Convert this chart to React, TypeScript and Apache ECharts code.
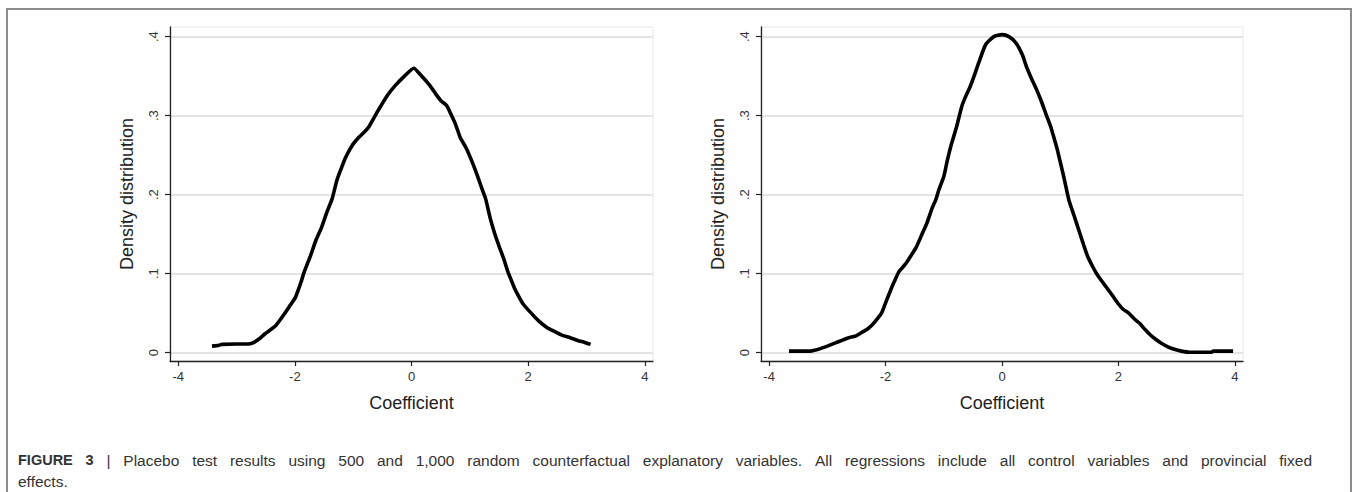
import React, { useEffect, useRef } from "react";
import * as echarts from "echarts";

const xTicks = [-4, -2, 0, 2, 4];
const yTicks = [0, 0.1, 0.2, 0.3, 0.4];
const yTickLabels = ["0", ".1", ".2", ".3", ".4"];

const xTitle = "Coefficient";
const yTitle = "Density distribution";

// Left panel: 500 random counterfactual draws
const reps500X = [-3.42, -3.3, -3.25, -3.0, -2.8, -2.73, -2.62, -2.51, -2.4, -2.32, -2.18, -2.08, -1.99, -1.9, -1.84, -1.73, -1.64, -1.54, -1.45, -1.36, -1.28, -1.2, -1.13, -1.02, -0.91, -0.8, -0.73, -0.576, -0.42, -0.28, -0.12, 0.04, 0.15, 0.316, 0.42, 0.503, 0.6, 0.65, 0.75, 0.837, 0.93, 1.02, 1.12, 1.21, 1.27, 1.35, 1.43, 1.51, 1.58, 1.655, 1.72, 1.77, 1.84, 1.91, 2.04, 2.17, 2.32, 2.45, 2.585, 2.72, 2.85, 2.97, 3.07];
const reps500Y = [0.0083, 0.0095, 0.0105, 0.011, 0.011, 0.012, 0.017, 0.024, 0.03, 0.035, 0.049, 0.06, 0.07, 0.088, 0.102, 0.123, 0.142, 0.159, 0.178, 0.195, 0.218, 0.234, 0.247, 0.262, 0.272, 0.28, 0.286, 0.306, 0.325, 0.338, 0.35, 0.36, 0.352, 0.338, 0.327, 0.319, 0.313, 0.306, 0.29, 0.272, 0.26, 0.245, 0.226, 0.207, 0.195, 0.17, 0.15, 0.133, 0.119, 0.102, 0.09, 0.081, 0.071, 0.062, 0.051, 0.041, 0.032, 0.027, 0.022, 0.019, 0.0155, 0.013, 0.0105];

// Right panel: 1,000 random counterfactual draws
const reps1000X = [-3.66, -3.45, -3.3, -3.2, -3.11, -2.98, -2.85, -2.74, -2.63, -2.52, -2.41, -2.31, -2.22, -2.14, -2.07, -2.0, -1.92, -1.85, -1.77, -1.66, -1.57, -1.47, -1.38, -1.29, -1.2, -1.14, -1.09, -1.0, -0.94, -0.88, -0.78, -0.69, -0.62, -0.557, -0.47, -0.39, -0.28, -0.14, 0.0, 0.12, 0.24, 0.35, 0.42, 0.5, 0.6, 0.687, 0.76, 0.837, 0.9, 0.95, 1.06, 1.15, 1.24, 1.32, 1.4, 1.47, 1.55, 1.62, 1.71, 1.806, 1.9, 1.99, 2.08, 2.177, 2.27, 2.364, 2.45, 2.55, 2.64, 2.737, 2.85, 2.96, 3.08, 3.22, 3.4, 3.59, 3.63, 3.75, 3.97];
const reps1000Y = [0.002, 0.002, 0.002, 0.0035, 0.0055, 0.009, 0.0127, 0.016, 0.019, 0.021, 0.0256, 0.03, 0.036, 0.043, 0.05, 0.063, 0.078, 0.09, 0.1026, 0.112, 0.122, 0.134, 0.149, 0.164, 0.183, 0.193, 0.205, 0.223, 0.243, 0.261, 0.286, 0.312, 0.325, 0.335, 0.352, 0.369, 0.39, 0.4, 0.4025, 0.4, 0.392, 0.377, 0.362, 0.348, 0.332, 0.316, 0.301, 0.286, 0.27, 0.257, 0.223, 0.193, 0.173, 0.155, 0.137, 0.122, 0.11, 0.1006, 0.091, 0.0816, 0.072, 0.0626, 0.055, 0.05, 0.043, 0.0372, 0.03, 0.0224, 0.017, 0.0119, 0.0075, 0.0043, 0.002, 0.0005, 0.0005, 0.0005, 0.002, 0.002, 0.002];

const captionBold = "FIGURE 3";
const captionLine1 = "| Placebo test results using 500 and 1,000 random counterfactual explanatory variables. All regressions include all control variables and provincial fixed";
const captionLine2 = "effects.";

const FONT = "'Liberation Sans', Arial, Helvetica, sans-serif";
const CAP_BOLD_SIZE = 14.5;
const CAP_SIZE = 15.5;
const CAP_LEFT = 18;
const CAP_RIGHT = 1312;

function zip(xs: number[], ys: number[]) {
  return xs.map((x, i) => [x, ys[i]]);
}

function yLabel(v: number) {
  let best = 0;
  yTicks.forEach((t, i) => {
    if (Math.abs(t - v) < Math.abs(yTicks[best] - v)) best = i;
  });
  return yTickLabels[best];
}

function makeX(gridIndex: number) {
  return {
    type: "value",
    gridIndex,
    min: -4.14,
    max: 4.14,
    axisLine: { show: true, onZero: false, lineStyle: { color: "#222", width: 1.3 } },
    axisTick: { show: true, length: 5, customValues: xTicks, lineStyle: { color: "#222", width: 1.2 } },
    axisLabel: { customValues: xTicks, fontSize: 13, color: "#333", margin: 9, fontFamily: FONT },
    splitLine: { show: false },
    name: xTitle,
    nameLocation: "middle",
    nameGap: 33,
    nameTextStyle: { fontSize: 18, color: "#222", fontFamily: FONT },
  };
}

function makeY(gridIndex: number) {
  return {
    type: "value",
    gridIndex,
    min: -0.0105,
    max: 0.4122,
    axisLine: { show: true, onZero: false, lineStyle: { color: "#222", width: 1.3 } },
    axisTick: { show: true, length: 5, customValues: yTicks, lineStyle: { color: "#222", width: 1.2 } },
    axisLabel: {
      customValues: yTicks,
      rotate: 90,
      fontSize: 13,
      color: "#333",
      margin: 10,
      fontFamily: FONT,
      formatter: (v: number) => yLabel(v),
    },
    splitLine: { show: true, lineStyle: { color: "#e4e4e4", width: 2 } },
    name: yTitle,
    nameLocation: "middle",
    nameGap: 34,
    nameTextStyle: { fontSize: 18, color: "#222", fontFamily: FONT },
  };
}

// First caption line, justified to the full text width like the journal layout
function justifiedCaption(y: number) {
  const tokens: { t: string; bold: boolean }[] = [];
  captionBold.split(" ").forEach((t) => tokens.push({ t, bold: true }));
  captionLine1.split(" ").forEach((t) => tokens.push({ t, bold: false }));
  const canvas = document.createElement("canvas");
  const ctx = canvas.getContext("2d")!;
  const widths = tokens.map((tk) => {
    ctx.font = (tk.bold ? "bold " + CAP_BOLD_SIZE : CAP_SIZE) + "px 'Liberation Sans', Arial, sans-serif";
    return ctx.measureText(tk.t).width;
  });
  const total = widths.reduce((a, b) => a + b, 0);
  const gap = (CAP_RIGHT - CAP_LEFT - total) / (tokens.length - 1);
  let x = CAP_LEFT;
  return tokens.map((tk, i) => {
    const el = {
      type: "text",
      silent: true,
      x,
      y,
      style: {
        text: tk.t,
        fontSize: tk.bold ? CAP_BOLD_SIZE : CAP_SIZE,
        fontFamily: FONT,
        fontWeight: tk.bold ? "bold" : "normal",
        fill: "#333",
        verticalAlign: "middle",
      },
    };
    x += widths[i] + gap;
    return el;
  });
}

export default function App() {
  const ref = useRef<HTMLDivElement>(null);
  useEffect(() => {
    if (!ref.current) return;
    const chart = echarts.init(ref.current, null, { renderer: "svg" });
    chart.setOption({
      animation: false,
      backgroundColor: "#fff",
      grid: [
        { left: 170, top: 27, width: 483, height: 334, show: true, borderColor: "#e8e8e8", borderWidth: 1, backgroundColor: "#fff" },
        { left: 761, top: 27, width: 482, height: 334, show: true, borderColor: "#e8e8e8", borderWidth: 1, backgroundColor: "#fff" },
      ],
      xAxis: [makeX(0), makeX(1)],
      yAxis: [makeY(0), makeY(1)],
      series: [
        {
          type: "line",
          xAxisIndex: 0,
          yAxisIndex: 0,
          data: zip(reps500X, reps500Y),
          showSymbol: false,
          symbol: "none",
          smooth: 0.2,
          lineStyle: { color: "#000", width: 3.6 },
        },
        {
          type: "line",
          xAxisIndex: 1,
          yAxisIndex: 1,
          data: zip(reps1000X, reps1000Y),
          showSymbol: false,
          symbol: "none",
          smooth: 0.2,
          lineStyle: { color: "#000", width: 3.6 },
        },
      ],
      graphic: [
        {
          type: "rect",
          silent: true,
          z: -10,
          shape: { x: 7, y: 9, width: 1344, height: 500 },
          style: { fill: "none", stroke: "#8c8c8c", lineWidth: 2 },
        },
        ...justifiedCaption(460),
        {
          type: "text",
          silent: true,
          x: CAP_LEFT,
          y: 481,
          style: {
            text: captionLine2,
            verticalAlign: "middle",
            fontSize: CAP_SIZE,
            fontFamily: FONT,
            fill: "#333",
          },
        },
      ],
    });
    return () => chart.dispose();
  }, []);
  return (
    <div
      ref={ref}
      style={{ position: "fixed", left: 0, top: 0, width: 1357, height: 492 }}
    />
  );
}
